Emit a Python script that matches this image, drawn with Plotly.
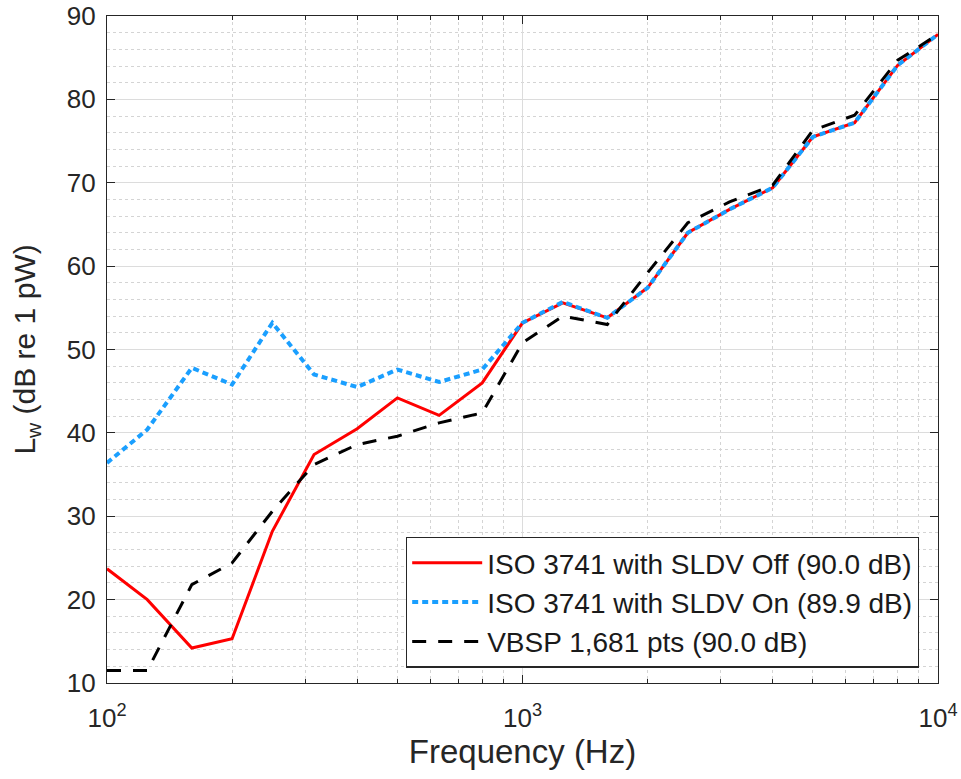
import plotly.graph_objects as go

# One-third-octave band centre frequencies (Hz)
freq = [100, 125, 160, 200, 250, 315, 400, 500, 630, 800, 1000,
        1250, 1600, 2000, 2500, 3150, 4000, 5000, 6300, 8000, 10000]

# Sound power level per band (dB re 1 pW)
iso_off = [23.7, 20.0, 14.2, 15.3, 28.2, 37.4, 40.5, 44.2, 42.1, 46.0, 53.2,
           55.6, 53.8, 57.4, 64.0, 66.8, 69.4, 75.5, 77.2, 84.1, 87.8]
iso_on = [36.4, 40.4, 47.8, 45.8, 53.2, 47.0, 45.5, 47.6, 46.1, 47.6, 53.2,
          55.7, 53.8, 57.4, 64.0, 66.8, 69.4, 75.5, 77.2, 84.1, 87.8]
vbsp = [11.5, 11.5, 21.8, 24.4, 30.6, 36.2, 38.6, 39.6, 41.2, 42.4, 50.8,
        54.0, 53.0, 59.2, 65.2, 67.7, 69.7, 76.3, 78.1, 84.7, 87.8]

names = ["ISO 3741 with SLDV Off (90.0 dB)",
         "ISO 3741 with SLDV On (89.9 dB)",
         "VBSP 1,681 pts (90.0 dB)"]

x_major = [100, 1000, 10000]
x_major_text = ["10<sup>2</sup>", "10<sup>3</sup>", "10<sup>4</sup>"]
x_minor = [m * d for d in (100, 1000) for m in range(2, 10)]
y_ticks = list(range(10, 100, 10))

axis_col = "#262626"
font_fam = "Liberation Sans, Arial, sans-serif"

fig = go.Figure()
fig.add_trace(go.Scatter(x=freq, y=iso_off, mode="lines", name=names[0],
                         line=dict(color="#ff0000", width=3)))
fig.add_trace(go.Scatter(x=freq, y=iso_on, mode="lines", name=names[1],
                         line=dict(color="#1a9fff", width=4, dash="6px,4px")))
fig.add_trace(go.Scatter(x=freq, y=vbsp, mode="lines", name=names[2],
                         line=dict(color="#000000", width=3, dash="14px,12px")))

fig.update_layout(
    width=961, height=779,
    margin=dict(l=107, r=23, t=16, b=96),
    paper_bgcolor="white", plot_bgcolor="white",
    font=dict(family=font_fam, size=18, color=axis_col),
    showlegend=True,
    legend=dict(x=0.977, y=0.023, xanchor="right", yanchor="bottom",
                bgcolor="white", bordercolor="#262626", borderwidth=1.3,
                font=dict(size=28, color="#1a1a1a"), itemwidth=70,
                tracegroupgap=0),
)

fig.update_xaxes(
    type="log", range=[2, 4], automargin=False,
    tickmode="array", tickvals=x_major, ticktext=x_major_text,
    showline=True, linecolor=axis_col, linewidth=1.2, mirror="ticks",
    ticks="inside", ticklen=8, tickcolor=axis_col, ticklabelstandoff=12,
    showgrid=True, gridcolor="#dcdcdc", gridwidth=1,
    minor=dict(tickmode="array", tickvals=x_minor, ticks="inside", ticklen=4,
               tickcolor=axis_col, showgrid=True, gridcolor="#d4d4d4",
               griddash="dot", gridwidth=1),
    tickfont=dict(size=26, color=axis_col),
    title=dict(text="Frequency (Hz)", font=dict(size=33, color=axis_col),
               standoff=2),
    zeroline=False,
)

fig.update_yaxes(
    range=[10, 90], automargin=False,
    tickmode="array", tickvals=y_ticks,
    showline=True, linecolor=axis_col, linewidth=1.2, mirror="ticks",
    ticks="inside", ticklen=8, tickcolor=axis_col, ticklabelstandoff=5,
    showgrid=True, gridcolor="#dcdcdc", gridwidth=1,
    minor=dict(dtick=2, ticks="", showgrid=True, gridcolor="#d4d4d4",
               griddash="dot", gridwidth=1),
    tickfont=dict(size=26, color=axis_col),
    title=dict(text="L<sub>w</sub> (dB re 1 pW)",
               font=dict(size=30, color=axis_col), standoff=22),
    zeroline=False,
)

fig.write_html("out.html")
